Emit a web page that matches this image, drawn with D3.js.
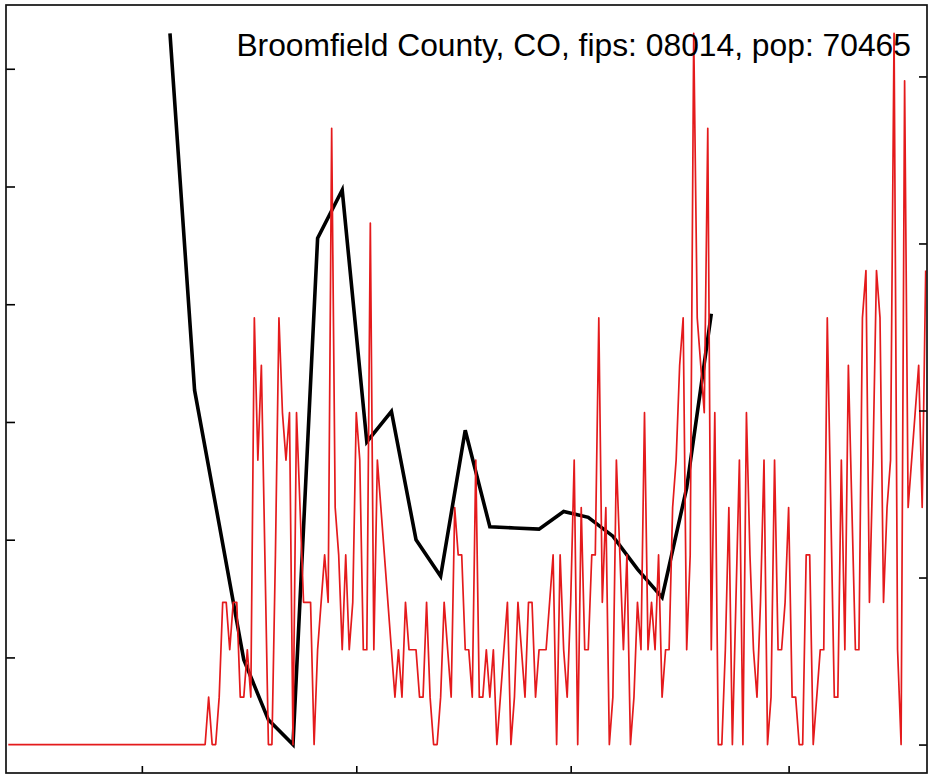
<!DOCTYPE html>
<html><head><meta charset="utf-8">
<script src="https://cdn.jsdelivr.net/npm/d3@7"></script>
<style>body{margin:0;background:#fff} svg{display:block}</style>
</head><body><svg id="c" width="933" height="774"></svg>
<script>
// ---------- data ----------
const title = "Broomfield County, CO, fips: 08014, pop: 70465";
const population = 70465;
const dailyStart = "2020-01-23";
const dailyCases = [
  0,0,0,0,0,0,0,0,0,0, 0,0,0,0,0,0,0,0,0,0,
  0,0,0,0,0,0,0,0,0,0, 0,0,0,0,0,0,0,0,0,0,
  0,0,0,0,0,0,0,0,0,0, 0,0,0,0,0,0,
  0,1,0,0,1,3,3,2,3,3, 1,1,2,1,9,6,8,4,0,0,
  4,9,7,6,7,0,7,5,3,3, 3,0,2,3,4,3,13,5,4,2,
  4,2,3,7,6,2,2,11,2,6, 5,4,3,2,1,2,1,3,2,2,
  2,1,1,3,1,0,0,1,3,2, 1,5,4,4,2,2,1,6,1,1,
  2,1,2,0,1,2,3,0,1,3, 2,1,3,3,1,2,2,2,3,4,
  0,4,2,1,3,6,0,5,2,2, 4,4,9,3,5,0,1,6,4,2,
  4,0,1,3,2,7,2,3,2,4, 1,2,2,5,6,8,9,2,4,15,
  9,8,7,13,2,7,0,0,2,5, 0,3,6,0,7,4,2,1,3,6,
  0,1,6,2,2,3,5,1,1,0, 0,4,4,0,1,2,2,9,5,1,
  1,6,2,8,5,2,2,9,10,3, 6,10,9,3,5,6,15,2,0,14,
  5,6,7,8,5,10
];
const weeklyStart = "2020-03-09";
const weeklyValues = [6.30,3.27,2.13,0.98,0.47,0.26,4.56,4.97,2.83,3.09,2.00,1.69,
                      2.93,2.11,2.10,2.09,2.24,2.19,2.03,1.75,1.51,2.44,3.92];
const leftTicks = [1,2,3,4,5,6];
const rightTicks = [0,5,10,15,20];
const dateTicks = ["2020-03-01","2020-05-01","2020-07-01","2020-09-01"];

// ---------- layout ----------
const box = {left: 6, right: 927, top: 5, bottom: 773};
const DAY = 864e5;
const pad = 0.04;
const svg = d3.select("#c");

const t0 = new Date(dailyStart + "T00:00:00Z");
const w0 = new Date(weeklyStart + "T00:00:00Z");
const daily = dailyCases.map((c, i) => ({date: new Date(+t0 + i * DAY), v: c * 1e5 / population}));
const weekly = weeklyValues.map((v, i) => ({date: new Date(+w0 + i * 7 * DAY), v}));

const x = d3.scaleUtc()
  .domain([new Date(+t0 - 0.65 * DAY), new Date(+t0 + 261.37 * DAY)])
  .range([box.left, box.right]);

function padded(ext) { const r = ext[1] - ext[0]; return [ext[0] - pad * r, ext[1] + pad * r]; }
const yRight = d3.scaleLinear().domain(padded(d3.extent(daily, d => d.v))).range([box.bottom, box.top]);
const yLeft = d3.scaleLinear().domain(padded(d3.extent(weekly, d => d.v))).range([box.bottom, box.top]);

svg.append("defs").append("clipPath").attr("id", "clip")
  .append("rect").attr("x", box.left).attr("y", box.top)
  .attr("width", box.right - box.left).attr("height", box.bottom - box.top);

const plot = svg.append("g").attr("clip-path", "url(#clip)");

plot.append("path").datum(weekly)
  .attr("fill", "none").attr("stroke", "#000").attr("stroke-width", 3.6)
  .attr("stroke-linejoin", "miter").attr("stroke-linecap", "butt")
  .attr("d", d3.line().x(d => x(d.date)).y(d => yLeft(d.v)));

plot.append("path").datum(daily)
  .attr("fill", "none").attr("stroke", "#e41a1c").attr("stroke-width", 1.7)
  .attr("stroke-linejoin", "round")
  .attr("d", d3.line().x(d => x(d.date)).y(d => yRight(d.v)));

// axes (ticks inside, no labels)
function styleAxis(g) {
  g.select(".domain").remove();
  g.selectAll(".tick line").attr("stroke", "#000").attr("stroke-width", 1.6);
  g.selectAll(".tick text").remove();
}
svg.append("g").attr("transform", `translate(${box.left},0)`)
  .call(d3.axisLeft(yLeft).tickValues(leftTicks).tickSize(-9).tickFormat(""))
  .call(styleAxis);
svg.append("g").attr("transform", `translate(${box.right},0)`)
  .call(d3.axisRight(yRight).tickValues(rightTicks).tickSize(-8).tickFormat(""))
  .call(styleAxis);
svg.append("g").attr("transform", `translate(0,${box.bottom})`)
  .call(d3.axisBottom(x).tickValues(dateTicks.map(s => new Date(s + "T00:00:00Z"))).tickSize(-7).tickFormat(""))
  .call(styleAxis);

svg.append("rect")
  .attr("x", box.left).attr("y", box.top)
  .attr("width", box.right - box.left).attr("height", box.bottom - box.top)
  .attr("fill", "none").attr("stroke", "#111").attr("stroke-width", 1.7);

svg.append("text")
  .attr("x", 911).attr("y", 56)
  .attr("text-anchor", "end")
  .attr("font-family", "'Liberation Sans', Arial, Helvetica, sans-serif")
  .attr("font-size", 31.8)
  .attr("fill", "#000")
  .text(title);
</script>
</body></html>
